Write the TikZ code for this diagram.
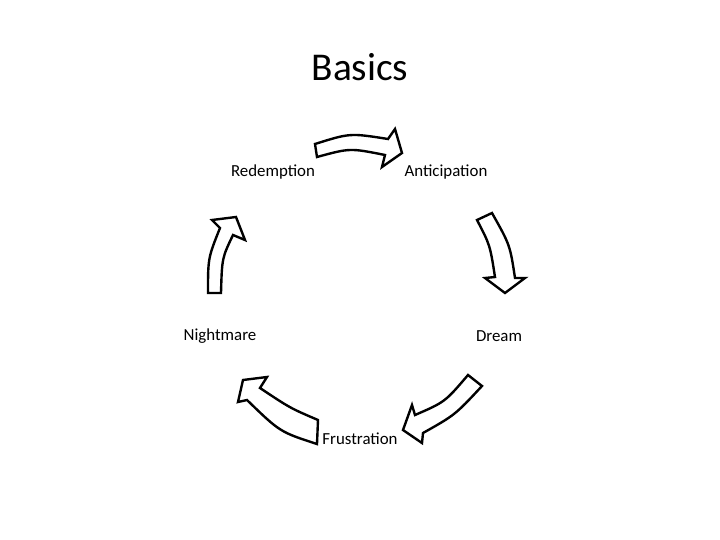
\documentclass[tikz,border=0pt]{standalone}
\usepackage{fontspec}
\setmainfont{Carlito}
\begin{document}
\begin{tikzpicture}[x=0.25mm,y=-0.25mm,
  blk/.style={draw=black,fill=white,line width=1.7pt,line join=miter},
  lbl/.style={font=\fontsize{12}{14}\selectfont}]
\useasboundingbox (0,0) rectangle (720,540);
\node (title) at (360,67) {\fontsize{28}{32}\selectfont Basics};
\node[lbl] (red) at (273,172) {Redemption};
\node[lbl] (ant) at (446,172) {Anticipation};
\node[lbl] (nig) at (220,336) {Nightmare};
\node[lbl] (dre) at (499,336) {Dream};
\node[lbl] (fru) at (360,439) {Frustration};
% top arrow
\draw[blk] (317,157) -- (315,144) .. controls (350,133) .. (388,139) -- (395,129) -- (402,153) -- (382,167) -- (385,155) .. controls (350,148) .. (317,157) -- cycle;
% right arrow
\draw[blk] (477,220) -- (492,213) .. controls (510,245) .. (515,278) -- (525,278) -- (505,293) -- (485,278) -- (495,277) .. controls (490,245) .. (477,220) -- cycle;
% bottom-right arrow
\draw[blk] (468,375) -- (482,386) .. controls (455,415) .. (423,433) -- (422,443) -- (403,430) -- (412,405) -- (415,415) .. controls (445,402) .. (468,375) -- cycle;
% bottom-left arrow
\draw[blk] (318,420) -- (317,444) .. controls (280,432) .. (247,400) -- (238,402) -- (243,380) -- (267,377) -- (260,388) .. controls (290,408) .. (318,420) -- cycle;
% left arrow
\draw[blk] (208,293) -- (221,293) .. controls (222,258) .. (233,235) -- (245,240) -- (236,217) -- (212,220) -- (220,228) .. controls (208,258) .. (208,293) -- cycle;
\end{tikzpicture}
\end{document}
